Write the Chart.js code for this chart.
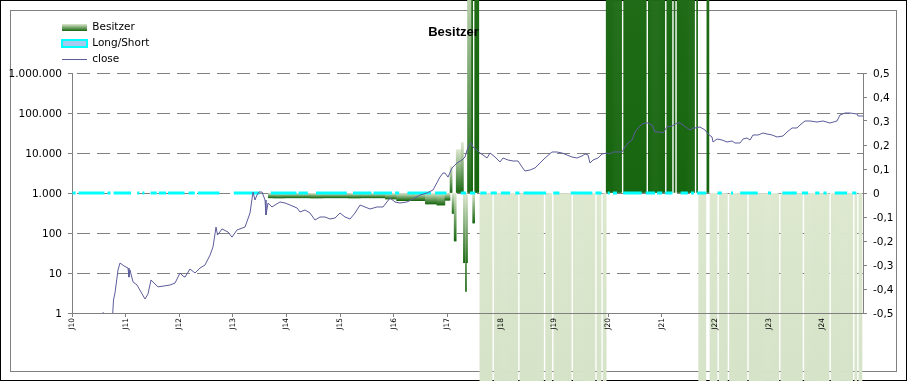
<!DOCTYPE html>
<html>
<head>
<meta charset="utf-8">
<script src="https://cdn.jsdelivr.net/npm/chart.js@4.4.1/dist/chart.umd.min.js"></script>
<style>
html,body{margin:0;padding:0;background:#fff;overflow:hidden}
canvas{display:block}
</style>
</head>
<body>
<canvas id="c" width="907" height="381"></canvas>
<script>
// ---------- axis definitions ----------
const xMin = 2010, xMax = 2024.757;
const xTickValues = [2010,2011,2012,2013,2014,2015,2016,2017,2018,2019,2020,2021,2022,2023,2024];
const xTickLabels = ['J10','J11','J12','J13','J14','J15','J16','J17','J18','J19','J20','J21','J22','J23','J24'];
const leftTickValues = [1,10,100,1000,10000,100000,1000000];
const leftTickLabels = ['1','10','100','1.000','10.000','100.000','1.000.000'];
const rightTickValues = [-0.5,-0.4,-0.3,-0.2,-0.1,0,0.1,0.2,0.3,0.4,0.5];
const rightTickLabels = ['-0,5','-0,4','-0,3','-0,2','-0,1','0','0,1','0,2','0,3','0,4','0,5'];

// ---------- close (left log axis) ----------
const closeYear = [
2010.578,2010.62,2010.756,2010.774,2010.802,2010.834,2010.858,2010.896,2010.970,
2011.045,2011.063,2011.082,2011.138,2011.213,2011.287,2011.362,2011.418,2011.474,2011.549,2011.604,2011.698,2011.828,2011.922,
2012.015,2012.071,2012.108,2012.201,2012.295,2012.388,2012.481,2012.575,2012.631,2012.687,2012.715,2012.799,2012.910,2012.985,
2013.078,2013.228,2013.321,2013.377,2013.414,2013.451,2013.489,2013.545,2013.601,2013.619,2013.657,2013.731,2013.787,2013.881,2013.974,
2014.067,2014.198,2014.254,2014.347,2014.440,2014.534,2014.627,2014.720,2014.813,2014.907,
2015.000,2015.093,2015.187,2015.280,2015.373,2015.466,2015.560,2015.690,2015.802,2015.933,
2016.026,2016.119,2016.250,2016.362,2016.493,2016.623,2016.735,2016.866,2016.922,2016.959,
2017.015,2017.090,2017.183,2017.276,2017.332,2017.388,2017.444,2017.481,2017.556,2017.612,2017.668,2017.743,2017.799,2017.892,2017.985,
2018.041,2018.134,2018.228,2018.321,2018.396,2018.451,2018.545,2018.638,2018.731,2018.825,2018.955,
2019.049,2019.142,2019.235,2019.328,2019.422,2019.515,2019.571,2019.627,2019.664,2019.720,2019.813,2019.888,2019.981,
2020.037,2020.093,2020.168,2020.261,2020.317,2020.373,2020.448,2020.504,2020.560,2020.634,2020.690,2020.746,2020.821,2020.877,2020.970,
2021.026,2021.101,2021.194,2021.287,2021.343,2021.399,2021.474,2021.530,2021.586,2021.623,2021.716,2021.810,2021.866,2021.940,2021.959,
2022.034,2022.127,2022.220,2022.313,2022.369,2022.463,2022.519,2022.593,2022.649,2022.705,2022.799,2022.892,2022.966,
2023.060,2023.153,2023.265,2023.340,2023.433,2023.526,2023.582,2023.675,2023.769,2023.899,
2024.011,2024.142,2024.272,2024.328,2024.422,2024.515,2024.646,2024.664,2024.757];
const closeValue = [
1.05,0.8,0.8,2.1,3.2,6.7,11.9,17.8,15,
13.3,7.9,11.9,6.0,5.0,3.35,2.24,3.0,6.7,5.3,4.5,4.7,5.0,5.6,
10,8.4,7.9,12.6,10,13.3,15.8,28,45,141,89,126,106,79,
119,141,316,1060,668,891,1059,1059,668,282,562,447,501,596,562,
501,422,335,376,316,211,251,251,224,237,
316,251,224,316,501,447,398,447,447,750,
596,562,596,708,891,1000,1189,2512,3162,3162,
2500,4217,5623,6683,7943,14125,17783,14125,11885,10000,8913,7499,10000,7943,5957,
7499,6683,6310,6310,4467,3548,3758,4217,5623,7499,10593,
10593,10000,8913,7943,7499,8414,9441,8913,5623,6683,7499,9441,10000,
9441,10593,10593,10593,14125,17783,21135,33497,42170,53088,56234,56234,50119,33497,33497,
31623,44668,47315,56234,56234,50119,42170,37584,42170,42170,44668,37584,29854,25119,18836,
22387,21135,18836,19953,17783,17783,22387,23714,21135,28184,28184,31623,29854,
28184,25119,26607,33497,42170,42170,50119,63096,63096,59566,
63096,56234,63096,89125,100000,100000,94406,84140,84140];

// ---------- Besitzer (right axis), weekly bars given as runs ----------
const besStart = [2013.657,2015.840,2016.063,2016.586,2016.810,2016.959,2017.052,2017.090,2017.127,2017.174,2017.258,2017.295,2017.332,2017.360,2017.379,2017.453,2017.481,2017.509,
2017.612,2017.873,2018.358,2018.843,2018.983,2019.347,2019.795,2019.907,
2019.963,2020.289,2020.746,2021.091,2021.231,2021.297,2021.647,
2021.688,2021.838,2021.894,2022.071,2022.267,2022.631,2023.218,2023.657,2024.170,2024.608,2024.683];
const besEnd = [2015.840,2016.063,2016.586,2016.810,2016.959,2017.052,2017.090,2017.127,2017.174,2017.258,2017.295,2017.332,2017.360,2017.379,2017.453,2017.481,2017.509,2017.584,
2017.836,2018.321,2018.806,2018.946,2019.310,2019.758,2019.869,2019.963,
2020.252,2020.709,2021.054,2021.194,2021.259,2021.614,2021.675,
2021.832,2021.884,2022.034,2022.230,2022.593,2023.181,2023.619,2024.133,2024.571,2024.646,2024.795];
const besValue = [-0.02,-0.025,-0.032,-0.045,-0.05,-0.03,0.11,-0.085,-0.2,0.18,0.21,-0.29,-0.41,-0.29,1.0,20,-0.125,20,
-20,-20,-20,-20,-20,-20,-20,-20,
20,20,20,20,20,20,20,
-20,20,-20,-20,-20,-20,-20,-20,-20,-20,-20];

// ---------- Long/Short (right axis) at level 0, runs where present ----------
const longShortLevel = 0;
const lsStart = [2010.000,2010.112,2010.653,2010.765,2011.205,2011.300,2011.455,2011.604,2011.791,2012.164,2012.332,2013.004,2013.694,2014.216,2014.534,2015.224,2015.616,2016.026,2016.250,2016.772,
2017.239,2017.425,2017.612,2017.799,2017.985,2018.265,2018.414,2018.974,2019.291,2019.757,2019.981,2020.075,2020.280,2020.690,2020.914,2021.063,2021.343,2021.530,2021.660,
2022.034,2022.285,2022.463,2022.966,2023.246,2023.601,2023.862,2024.011,2024.216,2024.552];
const lsEnd = [2010.075,2010.616,2010.728,2011.119,2011.265,2011.360,2011.586,2011.772,2012.108,2012.295,2012.761,2013.507,2014.198,2014.403,2015.131,2015.597,2015.989,2016.119,2016.716,2016.996,
2017.369,2017.537,2017.743,2017.929,2018.190,2018.358,2018.862,2019.104,2019.720,2019.888,2020.037,2020.168,2020.634,2020.877,2021.026,2021.213,2021.493,2021.623,2021.847,
2022.127,2022.345,2022.799,2023.060,2023.526,2023.750,2023.955,2024.086,2024.478,2024.646];

// ---------- colours ----------
const BES_LIGHT = '#dde8cf';
const BES_DARK = '#17660f';
const LS_FILL = '#a6caf0';
const LS_LINE = '#00ffff';
const CLOSE_COLOR = '#5c5c9c';
const AXIS_GRAY = '#808080';

// ---------- build tables for the library ----------
const WEEKS_PER_YEAR = 52.1775;
const weekCount = Math.floor((xMax - xMin) * WEEKS_PER_YEAR);
const weekTimes = [];
for (let w = 0; w < weekCount; w++) weekTimes.push(xMin + (w + 0.5) / WEEKS_PER_YEAR);

function runIndexAt(t, starts, ends) {
  for (let i = 0; i < starts.length; i++) if (t >= starts[i] && t < ends[i]) return i;
  return -1;
}
const besitzerData = [];
weekTimes.forEach(t => { const i = runIndexAt(t, besStart, besEnd); if (i >= 0) besitzerData.push({x: t, y: besValue[i]}); });
const longShortData = weekTimes.map(t => ({x: t, y: runIndexAt(t, lsStart, lsEnd) >= 0 ? longShortLevel : null}));
const closeData = closeYear.map((x, i) => ({x, y: closeValue[i]}));

function besitzerFill(ctx) {
  if (ctx.type !== 'data' || !ctx.chart.scales.y2) return BES_DARK;
  const s = ctx.chart.scales.y2;
  const v = ctx.raw ? ctx.raw.y : 0;
  const p0 = s.getPixelForValue(0), p1 = s.getPixelForValue(v);
  const top = Math.min(p0, p1), bot = Math.max(p0, p1);
  if (!isFinite(top) || !isFinite(bot) || bot - top < 1) return BES_DARK;
  const g = ctx.chart.ctx.createLinearGradient(0, top, 0, bot);
  g.addColorStop(0, BES_LIGHT);
  g.addColorStop(1, BES_DARK);
  return g;
}

const framePlugin = {
  id: 'frame',
  beforeDraw(chart) {
    const c = chart.ctx;
    c.save();
    c.fillStyle = '#ffffff';
    c.fillRect(0, 0, chart.width, chart.height);
    c.lineWidth = 1;
    c.strokeStyle = '#000000';
    c.strokeRect(0.5, 0.5, chart.width - 1, chart.height - 1);
    c.strokeStyle = AXIS_GRAY;
    c.strokeRect(10.5, 10.5, 886, 361);
    c.restore();
  }
};

const layoutTweaks = {
  id: 'layoutTweaks',
  beforeUpdate(chart) {
    const tb = chart.titleBlock;
    if (tb && !tb.__onTop) {
      tb.__onTop = true;
      tb._layers = () => [{z: 5, draw: (area) => tb.draw(area)}];
    }
  },
  afterLayout(chart) {
    const lg = chart.legend;
    if (!lg) return;
    lg.left = 56.5; lg.top = 16.75; lg.right = 330; lg.bottom = 90;
    lg.width = lg.right - lg.left; lg.height = lg.bottom - lg.top;
  }
};

Chart.defaults.font.family = "'DejaVu Sans', sans-serif";
Chart.defaults.color = '#000000';

new Chart(document.getElementById('c'), {
  type: 'line',
  data: {
    datasets: [
      {
        label: 'close', type: 'line', data: closeData, yAxisID: 'y', xAxisID: 'x', order: 0,
        borderColor: CLOSE_COLOR, borderWidth: 1, pointRadius: 0, tension: 0, fill: false
      },
      {
        label: 'Long/Short', type: 'line', data: longShortData, yAxisID: 'y2', xAxisID: 'x', order: 1,
        borderColor: LS_LINE, backgroundColor: LS_FILL, borderWidth: 3, pointRadius: 0, tension: 0,
        spanGaps: false, fill: false, borderCapStyle: 'butt'
      },
      {
        label: 'Besitzer', type: 'bar', data: besitzerData, yAxisID: 'y2', xAxisID: 'x', order: 2,
        backgroundColor: besitzerFill, borderWidth: 0, barPercentage: 1, categoryPercentage: 1,
        grouped: false, clip: false
      }
    ]
  },
  options: {
    responsive: false,
    animation: false,
    devicePixelRatio: 1,
    events: [],
    layout: {padding: 0, autoPadding: false},
    scales: {
      x: {
        type: 'linear', position: 'bottom', min: xMin, max: xMax, offset: false,
        afterBuildTicks: (s) => { s.ticks = xTickValues.map(v => ({value: v})); },
        afterFit: (s) => { s.height = 68; },
        ticks: {
          autoSkip: false, minRotation: 90, maxRotation: 90, padding: 1, z: 1,
          color: '#000', font: {size: 7.5},
          callback: (v, i) => xTickLabels[i]
        },
        grid: {drawOnChartArea: false, drawTicks: true, tickLength: 4, color: AXIS_GRAY, offset: false},
        border: {color: AXIS_GRAY, z: 1}
      },
      y: {
        type: 'logarithmic', position: 'left', min: 1, max: 1000000,
        afterBuildTicks: (s) => { s.ticks = leftTickValues.map(v => ({value: v})); },
        afterFit: (s) => { s.width = 72; },
        ticks: {
          autoSkip: false, padding: 6, labelOffset: 1, color: '#000', font: {size: 10.5},
          callback: (v, i) => leftTickLabels[i]
        },
        grid: {color: AXIS_GRAY, lineWidth: 1, tickLength: 4, drawTicks: true},
        border: {color: AXIS_GRAY, dash: [13, 7], dashOffset: 16}
      },
      y2: {
        type: 'linear', position: 'right', min: -0.5, max: 0.5,
        afterBuildTicks: (s) => { s.ticks = rightTickValues.map(v => ({value: v})); },
        afterFit: (s) => { s.width = 44; },
        ticks: {
          autoSkip: false, padding: 6, labelOffset: 1, color: '#000', font: {size: 10.5},
          callback: (v, i) => rightTickLabels[i]
        },
        grid: {drawOnChartArea: false, drawTicks: true, tickLength: 4, color: AXIS_GRAY},
        border: {color: AXIS_GRAY, z: 1}
      }
    },
    plugins: {
      tooltip: {enabled: false},
      title: {
        display: true, text: 'Besitzer', color: '#000',
        font: {family: "'Liberation Sans', Arial, sans-serif", size: 13, weight: 'bold', lineHeight: 1.2},
        padding: {top: 24.4, bottom: 33}
      },
      legend: {
        display: true, position: 'chartArea', align: 'start',
        labels: {
          usePointStyle: true, pointStyleWidth: 25, boxHeight: 7, padding: 5.5,
          color: '#000', font: {size: 10.5},
          generateLabels: (chart) => {
            const g = chart.ctx.createLinearGradient(0, 24, 0, 31);
            g.addColorStop(0, BES_LIGHT);
            g.addColorStop(1, BES_DARK);
            return [
              {text: 'Besitzer', fillStyle: g, strokeStyle: g, lineWidth: 0, pointStyle: 'rect', datasetIndex: 2, hidden: false, fontColor: '#000'},
              {text: 'Long/Short', fillStyle: LS_FILL, strokeStyle: LS_LINE, lineWidth: 2, pointStyle: 'rect', datasetIndex: 1, hidden: false, fontColor: '#000'},
              {text: 'close', fillStyle: CLOSE_COLOR, strokeStyle: CLOSE_COLOR, lineWidth: 1, pointStyle: 'line', datasetIndex: 0, hidden: false, fontColor: '#000'}
            ];
          }
        }
      }
    }
  },
  plugins: [framePlugin, layoutTweaks]
});
</script>
</body>
</html>
